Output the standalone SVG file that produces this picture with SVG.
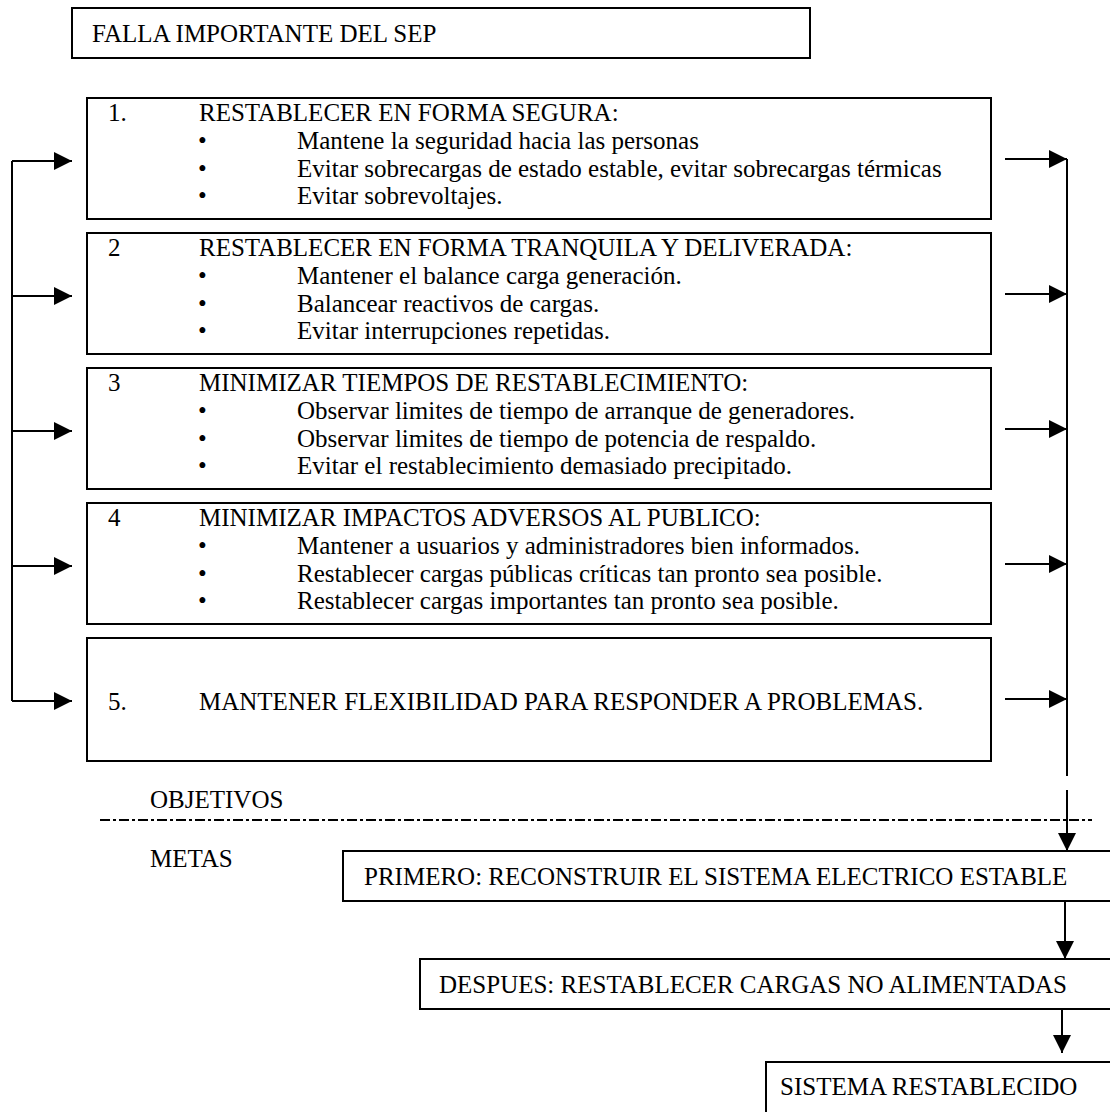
<svg xmlns="http://www.w3.org/2000/svg" width="1110" height="1112" viewBox="0 0 1110 1112">
<style>
  .box{fill:#fff;stroke:#000;stroke-width:2}
  .t{font-family:"Liberation Serif","Times New Roman",serif;font-size:25px;fill:#000}
  .c{fill:none;stroke:#000;stroke-width:2}
  .dash{fill:none;stroke:#000;stroke-width:2;stroke-dasharray:10,3,3,3}
</style>
<defs>
  <marker id="ah" viewBox="0 0 18 18" refX="18" refY="9" markerWidth="18" markerHeight="18" markerUnits="userSpaceOnUse" orient="auto">
    <path d="M0,0 L18,9 L0,18 z" fill="#000"/>
  </marker>
</defs>
<rect width="1110" height="1112" fill="#fff"/>

<g id="falla">
  <rect class="box" x="72" y="8" width="738" height="50"/>
  <text class="t" x="92" y="42">FALLA IMPORTANTE DEL SEP</text>
</g>

<g id="obj1">
  <rect class="box" x="87" y="98" width="904" height="121"/>
  <text class="t" x="108" y="121">1.</text>
  <text class="t" x="199" y="121">RESTABLECER EN FORMA SEGURA:</text>
  <text class="t" x="198" y="148.5">•</text><text class="t" x="297" y="148.5">Mantene la seguridad hacia las personas</text>
  <text class="t" x="198" y="176.5">•</text><text class="t" x="297" y="176.5">Evitar sobrecargas de estado estable, evitar sobrecargas térmicas</text>
  <text class="t" x="198" y="204">•</text><text class="t" x="297" y="204">Evitar sobrevoltajes.</text>
</g>

<g id="obj2">
  <rect class="box" x="87" y="233" width="904" height="121"/>
  <text class="t" x="108" y="256">2</text>
  <text class="t" x="199" y="256">RESTABLECER EN FORMA TRANQUILA Y DELIVERADA:</text>
  <text class="t" x="198" y="283.5">•</text><text class="t" x="297" y="283.5">Mantener el balance carga generación.</text>
  <text class="t" x="198" y="311.5">•</text><text class="t" x="297" y="311.5">Balancear reactivos de cargas.</text>
  <text class="t" x="198" y="339">•</text><text class="t" x="297" y="339">Evitar interrupciones repetidas.</text>
</g>

<g id="obj3">
  <rect class="box" x="87" y="368" width="904" height="121"/>
  <text class="t" x="108" y="391">3</text>
  <text class="t" x="199" y="391">MINIMIZAR TIEMPOS DE RESTABLECIMIENTO:</text>
  <text class="t" x="198" y="418.5">•</text><text class="t" x="297" y="418.5">Observar limites de tiempo de arranque de generadores.</text>
  <text class="t" x="198" y="446.5">•</text><text class="t" x="297" y="446.5">Observar limites de tiempo de potencia de respaldo.</text>
  <text class="t" x="198" y="474">•</text><text class="t" x="297" y="474">Evitar el restablecimiento demasiado precipitado.</text>
</g>

<g id="obj4">
  <rect class="box" x="87" y="503" width="904" height="121"/>
  <text class="t" x="108" y="526">4</text>
  <text class="t" x="199" y="526">MINIMIZAR IMPACTOS ADVERSOS AL PUBLICO:</text>
  <text class="t" x="198" y="553.5">•</text><text class="t" x="297" y="553.5">Mantener a usuarios y administradores bien informados.</text>
  <text class="t" x="198" y="581.5">•</text><text class="t" x="297" y="581.5">Restablecer cargas públicas críticas tan pronto sea posible.</text>
  <text class="t" x="198" y="609">•</text><text class="t" x="297" y="609">Restablecer cargas importantes tan pronto sea posible.</text>
</g>

<g id="obj5">
  <rect class="box" x="87" y="638" width="904" height="123"/>
  <text class="t" x="108" y="710">5.</text>
  <text class="t" x="199" y="710">MANTENER FLEXIBILIDAD PARA RESPONDER A PROBLEMAS.</text>
</g>

<g id="labels">
  <text class="t" x="150" y="808">OBJETIVOS</text>
  <text class="t" x="150" y="867">METAS</text>
  <path class="dash" d="M100,820 H1092"/>
</g>

<g id="primero">
  <rect class="box" x="343" y="851" width="780" height="50"/>
  <text class="t" x="364" y="885">PRIMERO: RECONSTRUIR EL SISTEMA ELECTRICO ESTABLE</text>
</g>

<g id="despues">
  <rect class="box" x="420" y="959" width="700" height="50"/>
  <text class="t" x="439" y="993">DESPUES: RESTABLECER CARGAS NO ALIMENTADAS</text>
</g>

<g id="sistema">
  <rect class="box" x="766" y="1062" width="360" height="60"/>
  <text class="t" x="780" y="1095">SISTEMA RESTABLECIDO</text>
</g>

<g id="connectors">
  <path class="c" d="M12,161 V701"/>
  <path class="c" d="M12,161 H72" marker-end="url(#ah)"/>
  <path class="c" d="M12,296 H72" marker-end="url(#ah)"/>
  <path class="c" d="M12,431 H72" marker-end="url(#ah)"/>
  <path class="c" d="M12,566 H72" marker-end="url(#ah)"/>
  <path class="c" d="M12,701 H72" marker-end="url(#ah)"/>
  <path class="c" d="M1067,159 V776"/>
  <path class="c" d="M1005,159 H1067" marker-end="url(#ah)"/>
  <path class="c" d="M1005,294 H1067" marker-end="url(#ah)"/>
  <path class="c" d="M1005,429 H1067" marker-end="url(#ah)"/>
  <path class="c" d="M1005,564 H1067" marker-end="url(#ah)"/>
  <path class="c" d="M1005,699 H1067" marker-end="url(#ah)"/>
  <path class="c" d="M1067,790 V851" marker-end="url(#ah)"/>
  <path class="c" d="M1065,901 V959" marker-end="url(#ah)"/>
  <path class="c" d="M1062,1009 V1053" marker-end="url(#ah)"/>
</g>
</svg>
